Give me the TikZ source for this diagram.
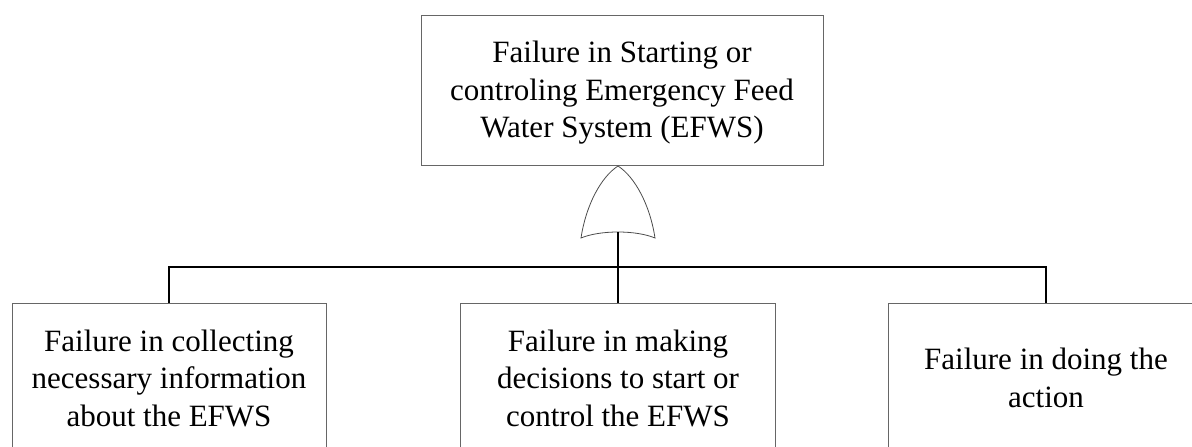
\documentclass[tikz,border=0pt]{standalone}
\usepackage{fontspec}
\setmainfont{Liberation Serif}
\begin{document}
\begin{tikzpicture}[x=1pt,y=-1pt,
  event/.style={draw=black!60, line width=0.9pt, fill=white, rectangle,
    align=center, inner sep=0pt,
    font=\fontsize{31}{37.5}\selectfont},
  conn/.style={draw=black, line width=2.3pt},
  gatestyle/.style={draw=black!70, line width=0.8pt, fill=white}]
  \useasboundingbox (0,0) rectangle (1192,447);
  \clip (0,0) rectangle (1192,447);

  % top event
  \node[event, minimum width=402pt, minimum height=150pt] (top) at (622,90)
    {\rule{0pt}{27pt}Failure in Starting or\\controling Emergency Feed\\Water System (EFWS)};

  % basic events (lower edges run past the page)
  \node[event, minimum width=314pt, minimum height=150pt] (left) at (169,378)
    {Failure in collecting\\necessary information\\about the EFWS};
  \node[event, minimum width=315pt, minimum height=150pt] (mid) at (618,378)
    {Failure in making\\decisions to start or\\control the EFWS};
  \node[event, minimum width=316pt, minimum height=150pt] (right) at (1046,378)
    {Failure in doing the\\action};

  % OR gate
  \coordinate (gatetop) at (618,166);
  \coordinate (gatebot) at (618,232);
  \coordinate (bus) at (618,267);
  \path[gatestyle] (gatetop) .. controls (601,177) and (586,205) .. (581,238)
    .. controls (600,230) and (636,230) .. (655,238)
    .. controls (650,205) and (635,177) .. (gatetop) -- cycle;

  % connectors
  \draw[conn] (gatebot) -- (bus) -- (mid.north);
  \draw[conn] (left.north) |- (bus) -| (right.north);
\end{tikzpicture}
\end{document}
